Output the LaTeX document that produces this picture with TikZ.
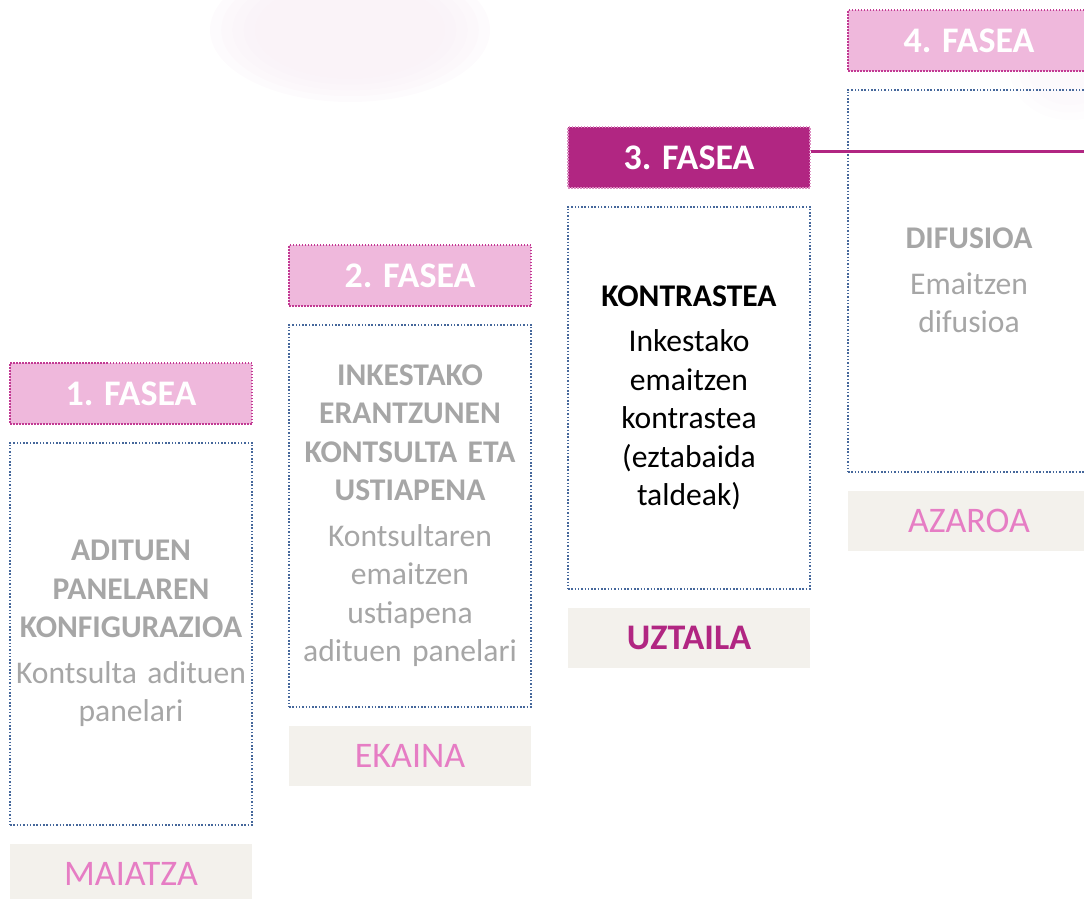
\documentclass[tikz,border=0pt]{standalone}
\usepackage{fontspec}
\setmainfont{Carlito}
\usetikzlibrary{positioning}

\definecolor{faselight}{HTML}{EFB8DC}
\definecolor{faseedge}{HTML}{C23A93}
\definecolor{fasedark}{HTML}{B12682}
\definecolor{paneledge}{HTML}{45679B}
\definecolor{panelgrey}{HTML}{A6A6A6}
\definecolor{monthfill}{HTML}{F3F1EC}
\definecolor{monthpink}{HTML}{E67DC4}
\definecolor{blobpink}{HTML}{F8EFF6}

\begin{document}
\begin{tikzpicture}[x=1pt,y=-1pt,
  fasebox/.style={minimum width=242pt, minimum height=61pt, inner sep=0pt,
    fill=faselight, draw=faseedge, line width=1.7pt,
    dash pattern=on 1.5pt off 1.5pt, text=white,
    font=\bfseries\fontsize{36}{43}\selectfont},
  faseon/.style={fasebox, fill=fasedark, draw=faselight!70!fasedark},
  panelbox/.style={minimum width=242pt, minimum height=382pt, inner sep=0pt,
    text width=236pt, align=center, draw=paneledge, line width=1.7pt,
    dash pattern=on 1.5pt off 1.8pt, text=panelgrey,
    font=\fontsize{31.6}{38.5}\selectfont},
  monthbox/.style={minimum width=242pt, minimum height=60pt, inner sep=0pt,
    fill=monthfill, text=monthpink, font=\fontsize{36}{43}\selectfont},
]
\useasboundingbox (0,0) rectangle (1084,899);

% faint blob in the background
\foreach \s in {1,0.92,0.84,0.76,0.68}
  \fill[blobpink, opacity=0.25] (350,30) ellipse ({140*\s} and {72*\s});
\foreach \s in {1,0.85,0.7}
  \fill[blobpink, opacity=0.15] (1070,70) ellipse ({60*\s} and {50*\s});

% phase 1
\node[fasebox] (fase1) at (131,393.5) {1. FASEA};
\node[panelbox, below=17pt of fase1] (panel1)
  {\textbf{ADITUEN}\\\textbf{PANELAREN}\\\textbf{KONFIGURAZIOA}\\[7pt]
   Kontsulta adituen\\panelari};
\node[monthbox, below=18pt of panel1] (month1) {MAIATZA};

% phase 2
\node[fasebox] (fase2) at (410,275.5) {2. FASEA};
\node[panelbox, below=17pt of fase2] (panel2)
  {\textbf{INKESTAKO}\\\textbf{ERANTZUNEN}\\\textbf{KONTSULTA ETA}\\\textbf{USTIAPENA}\\[7pt]
   Kontsultaren\\emaitzen\\ustiapena\\adituen panelari};
\node[monthbox, below=18pt of panel2] (month2) {EKAINA};

% phase 3
\node[faseon] (fase3) at (689,157.5) {3. FASEA};
\node[panelbox, text=black, below=17pt of fase3] (panel3)
  {\textbf{KONTRASTEA}\\[7pt]
   Inkestako\\emaitzen\\kontrastea\\(eztabaida\\taldeak)};
\node[monthbox, text=fasedark, font=\bfseries\fontsize{36}{43}\selectfont,
  below=18pt of panel3] (month3) {UZTAILA};

% phase 4
\node[fasebox] (fase4) at (969,40.5) {4. FASEA};
\node[panelbox, below=17pt of fase4] (panel4)
  {\textbf{DIFUSIOA}\\[7pt]
   Emaitzen\\difusioa};
\node[monthbox, below=18pt of panel4] (month4) {AZAROA};

% line out of the active phase
\coordinate (edge) at (1090,151);
\draw[fasedark, line width=3pt] (fase3.east |- edge) -- (edge);
\end{tikzpicture}
\end{document}
